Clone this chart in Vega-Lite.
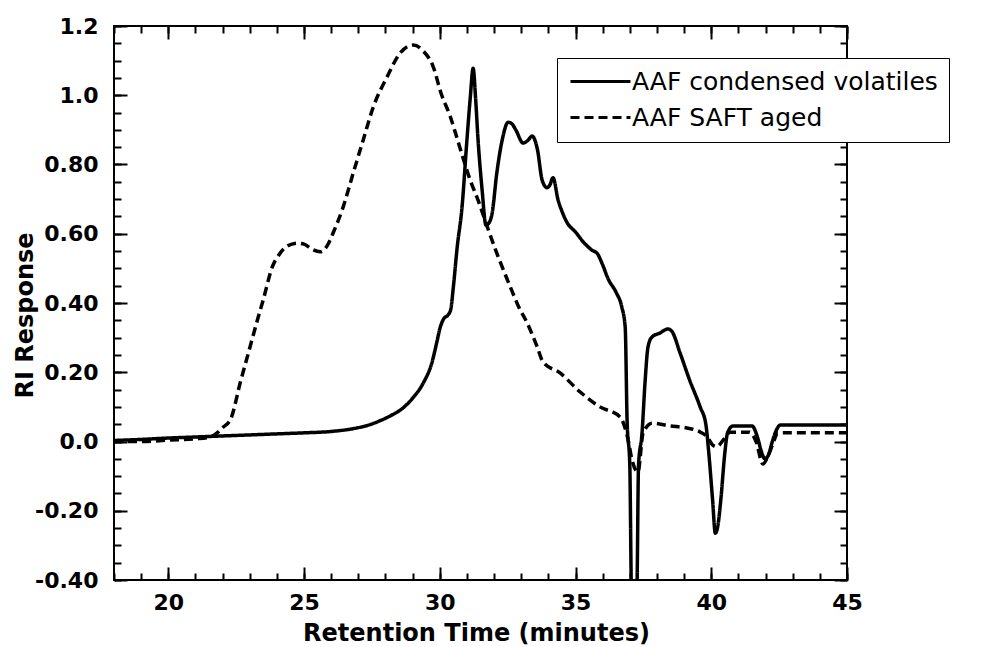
{
  "$schema": "https://vega.github.io/schema/vega-lite/v6.json",
  "autosize": {"type": "none"},
  "padding": {"left": 114, "top": 26, "right": 136, "bottom": 67},
  "width": 733,
  "height": 554,
  "background": "white",
  "config": {
    "view": {"stroke": "black", "strokeWidth": 2},
    "axis": {"grid": false, "domain": false, "tickColor": "black", "labelColor": "black", "titleColor": "black", "tickWidth": 2, "labelFlush": false, "labelOverlap": false}
  },
  "data": {"values": [
    {"t":18,"v":0.003,"s":"AAF condensed volatiles"},{"t":19,"v":0.006,"s":"AAF condensed volatiles"},{"t":20,"v":0.01,"s":"AAF condensed volatiles"},{"t":21,"v":0.013,"s":"AAF condensed volatiles"},{"t":22,"v":0.016,"s":"AAF condensed volatiles"},{"t":23,"v":0.019,"s":"AAF condensed volatiles"},{"t":24,"v":0.022,"s":"AAF condensed volatiles"},{"t":25,"v":0.025,"s":"AAF condensed volatiles"},{"t":26,"v":0.029,"s":"AAF condensed volatiles"},{"t":26.8,"v":0.037,"s":"AAF condensed volatiles"},{"t":27.4,"v":0.048,"s":"AAF condensed volatiles"},{"t":27.8,"v":0.06,"s":"AAF condensed volatiles"},{"t":28.2,"v":0.075,"s":"AAF condensed volatiles"},{"t":28.6,"v":0.094,"s":"AAF condensed volatiles"},{"t":29,"v":0.125,"s":"AAF condensed volatiles"},{"t":29.4,"v":0.17,"s":"AAF condensed volatiles"},{"t":29.7,"v":0.225,"s":"AAF condensed volatiles"},{"t":29.9,"v":0.29,"s":"AAF condensed volatiles"},{"t":30,"v":0.325,"s":"AAF condensed volatiles"},{"t":30.15,"v":0.355,"s":"AAF condensed volatiles"},{"t":30.3,"v":0.365,"s":"AAF condensed volatiles"},{"t":30.4,"v":0.38,"s":"AAF condensed volatiles"},{"t":30.5,"v":0.446,"s":"AAF condensed volatiles"},{"t":30.64,"v":0.56,"s":"AAF condensed volatiles"},{"t":30.82,"v":0.677,"s":"AAF condensed volatiles"},{"t":31,"v":0.871,"s":"AAF condensed volatiles"},{"t":31.12,"v":0.99,"s":"AAF condensed volatiles"},{"t":31.23,"v":1.078,"s":"AAF condensed volatiles"},{"t":31.32,"v":0.99,"s":"AAF condensed volatiles"},{"t":31.41,"v":0.871,"s":"AAF condensed volatiles"},{"t":31.56,"v":0.726,"s":"AAF condensed volatiles"},{"t":31.7,"v":0.625,"s":"AAF condensed volatiles"},{"t":31.8,"v":0.63,"s":"AAF condensed volatiles"},{"t":31.93,"v":0.66,"s":"AAF condensed volatiles"},{"t":32.1,"v":0.775,"s":"AAF condensed volatiles"},{"t":32.3,"v":0.871,"s":"AAF condensed volatiles"},{"t":32.52,"v":0.922,"s":"AAF condensed volatiles"},{"t":32.65,"v":0.918,"s":"AAF condensed volatiles"},{"t":32.8,"v":0.9,"s":"AAF condensed volatiles"},{"t":33.07,"v":0.862,"s":"AAF condensed volatiles"},{"t":33.25,"v":0.87,"s":"AAF condensed volatiles"},{"t":33.4,"v":0.882,"s":"AAF condensed volatiles"},{"t":33.6,"v":0.842,"s":"AAF condensed volatiles"},{"t":33.77,"v":0.755,"s":"AAF condensed volatiles"},{"t":33.95,"v":0.733,"s":"AAF condensed volatiles"},{"t":34.05,"v":0.74,"s":"AAF condensed volatiles"},{"t":34.17,"v":0.762,"s":"AAF condensed volatiles"},{"t":34.36,"v":0.697,"s":"AAF condensed volatiles"},{"t":34.5,"v":0.665,"s":"AAF condensed volatiles"},{"t":34.7,"v":0.631,"s":"AAF condensed volatiles"},{"t":35,"v":0.605,"s":"AAF condensed volatiles"},{"t":35.3,"v":0.575,"s":"AAF condensed volatiles"},{"t":35.6,"v":0.553,"s":"AAF condensed volatiles"},{"t":35.8,"v":0.543,"s":"AAF condensed volatiles"},{"t":36,"v":0.51,"s":"AAF condensed volatiles"},{"t":36.2,"v":0.47,"s":"AAF condensed volatiles"},{"t":36.5,"v":0.43,"s":"AAF condensed volatiles"},{"t":36.7,"v":0.39,"s":"AAF condensed volatiles"},{"t":36.83,"v":0.33,"s":"AAF condensed volatiles"},{"t":36.9,"v":0.06,"s":"AAF condensed volatiles"},{"t":37,"v":-0.07,"s":"AAF condensed volatiles"},{"t":37.05,"v":-0.4,"s":"AAF condensed volatiles"},{"t":37.1,"v":-0.6,"s":"AAF condensed volatiles"},{"t":37.22,"v":-0.6,"s":"AAF condensed volatiles"},{"t":37.27,"v":-0.4,"s":"AAF condensed volatiles"},{"t":37.32,"v":-0.07,"s":"AAF condensed volatiles"},{"t":37.45,"v":0.025,"s":"AAF condensed volatiles"},{"t":37.56,"v":0.17,"s":"AAF condensed volatiles"},{"t":37.67,"v":0.273,"s":"AAF condensed volatiles"},{"t":37.82,"v":0.302,"s":"AAF condensed volatiles"},{"t":38.1,"v":0.313,"s":"AAF condensed volatiles"},{"t":38.4,"v":0.325,"s":"AAF condensed volatiles"},{"t":38.55,"v":0.318,"s":"AAF condensed volatiles"},{"t":38.85,"v":0.256,"s":"AAF condensed volatiles"},{"t":39.2,"v":0.178,"s":"AAF condensed volatiles"},{"t":39.59,"v":0.1,"s":"AAF condensed volatiles"},{"t":39.8,"v":0.05,"s":"AAF condensed volatiles"},{"t":39.9,"v":-0.025,"s":"AAF condensed volatiles"},{"t":40.05,"v":-0.17,"s":"AAF condensed volatiles"},{"t":40.15,"v":-0.265,"s":"AAF condensed volatiles"},{"t":40.25,"v":-0.24,"s":"AAF condensed volatiles"},{"t":40.35,"v":-0.17,"s":"AAF condensed volatiles"},{"t":40.5,"v":-0.033,"s":"AAF condensed volatiles"},{"t":40.6,"v":0.025,"s":"AAF condensed volatiles"},{"t":40.8,"v":0.045,"s":"AAF condensed volatiles"},{"t":41.5,"v":0.045,"s":"AAF condensed volatiles"},{"t":41.7,"v":0.013,"s":"AAF condensed volatiles"},{"t":41.85,"v":-0.03,"s":"AAF condensed volatiles"},{"t":41.97,"v":-0.05,"s":"AAF condensed volatiles"},{"t":42.1,"v":-0.04,"s":"AAF condensed volatiles"},{"t":42.25,"v":0,"s":"AAF condensed volatiles"},{"t":42.4,"v":0.033,"s":"AAF condensed volatiles"},{"t":42.55,"v":0.048,"s":"AAF condensed volatiles"},{"t":45,"v":0.048,"s":"AAF condensed volatiles"},
    {"t":18,"v":0,"s":"AAF SAFT aged"},{"t":19,"v":0,"s":"AAF SAFT aged"},{"t":20,"v":0.004,"s":"AAF SAFT aged"},{"t":21,"v":0.008,"s":"AAF SAFT aged"},{"t":21.5,"v":0.012,"s":"AAF SAFT aged"},{"t":21.8,"v":0.025,"s":"AAF SAFT aged"},{"t":22,"v":0.04,"s":"AAF SAFT aged"},{"t":22.3,"v":0.065,"s":"AAF SAFT aged"},{"t":22.65,"v":0.17,"s":"AAF SAFT aged"},{"t":23,"v":0.27,"s":"AAF SAFT aged"},{"t":23.28,"v":0.35,"s":"AAF SAFT aged"},{"t":23.5,"v":0.41,"s":"AAF SAFT aged"},{"t":23.83,"v":0.504,"s":"AAF SAFT aged"},{"t":24.12,"v":0.544,"s":"AAF SAFT aged"},{"t":24.4,"v":0.565,"s":"AAF SAFT aged"},{"t":24.75,"v":0.573,"s":"AAF SAFT aged"},{"t":25,"v":0.57,"s":"AAF SAFT aged"},{"t":25.3,"v":0.555,"s":"AAF SAFT aged"},{"t":25.6,"v":0.548,"s":"AAF SAFT aged"},{"t":25.85,"v":0.565,"s":"AAF SAFT aged"},{"t":26.07,"v":0.602,"s":"AAF SAFT aged"},{"t":26.44,"v":0.677,"s":"AAF SAFT aged"},{"t":26.81,"v":0.775,"s":"AAF SAFT aged"},{"t":27.18,"v":0.871,"s":"AAF SAFT aged"},{"t":27.55,"v":0.966,"s":"AAF SAFT aged"},{"t":28.06,"v":1.053,"s":"AAF SAFT aged"},{"t":28.54,"v":1.122,"s":"AAF SAFT aged"},{"t":29.02,"v":1.145,"s":"AAF SAFT aged"},{"t":29.39,"v":1.128,"s":"AAF SAFT aged"},{"t":29.76,"v":1.082,"s":"AAF SAFT aged"},{"t":30.05,"v":1.005,"s":"AAF SAFT aged"},{"t":30.38,"v":0.94,"s":"AAF SAFT aged"},{"t":30.64,"v":0.875,"s":"AAF SAFT aged"},{"t":30.86,"v":0.818,"s":"AAF SAFT aged"},{"t":31.12,"v":0.755,"s":"AAF SAFT aged"},{"t":31.41,"v":0.697,"s":"AAF SAFT aged"},{"t":31.75,"v":0.62,"s":"AAF SAFT aged"},{"t":32.1,"v":0.544,"s":"AAF SAFT aged"},{"t":32.3,"v":0.504,"s":"AAF SAFT aged"},{"t":32.6,"v":0.446,"s":"AAF SAFT aged"},{"t":32.9,"v":0.39,"s":"AAF SAFT aged"},{"t":33.22,"v":0.342,"s":"AAF SAFT aged"},{"t":33.59,"v":0.273,"s":"AAF SAFT aged"},{"t":33.8,"v":0.23,"s":"AAF SAFT aged"},{"t":34.43,"v":0.198,"s":"AAF SAFT aged"},{"t":35.17,"v":0.143,"s":"AAF SAFT aged"},{"t":35.9,"v":0.1,"s":"AAF SAFT aged"},{"t":36.64,"v":0.071,"s":"AAF SAFT aged"},{"t":36.94,"v":0.004,"s":"AAF SAFT aged"},{"t":37.08,"v":-0.053,"s":"AAF SAFT aged"},{"t":37.3,"v":-0.088,"s":"AAF SAFT aged"},{"t":37.49,"v":0.025,"s":"AAF SAFT aged"},{"t":37.82,"v":0.053,"s":"AAF SAFT aged"},{"t":38.48,"v":0.045,"s":"AAF SAFT aged"},{"t":39.1,"v":0.039,"s":"AAF SAFT aged"},{"t":39.6,"v":0.027,"s":"AAF SAFT aged"},{"t":39.85,"v":0.013,"s":"AAF SAFT aged"},{"t":40.05,"v":-0.01,"s":"AAF SAFT aged"},{"t":40.2,"v":-0.015,"s":"AAF SAFT aged"},{"t":40.45,"v":0.005,"s":"AAF SAFT aged"},{"t":40.7,"v":0.027,"s":"AAF SAFT aged"},{"t":41.4,"v":0.027,"s":"AAF SAFT aged"},{"t":41.65,"v":0,"s":"AAF SAFT aged"},{"t":41.9,"v":-0.065,"s":"AAF SAFT aged"},{"t":42.1,"v":-0.04,"s":"AAF SAFT aged"},{"t":42.3,"v":0,"s":"AAF SAFT aged"},{"t":42.45,"v":0.025,"s":"AAF SAFT aged"},{"t":45,"v":0.025,"s":"AAF SAFT aged"}
  ]},
  "layer": [
    {
      "mark": {"type": "point", "opacity": 0, "size": 0},
      "encoding": {
        "x": {"field": "t", "type": "quantitative", "scale": {"domain": [18, 45], "nice": false, "zero": false},
              "axis": {"orient": "bottom", "offset": -7, "values": [18,19,20,21,22,23,24,25,26,27,28,29,30,31,32,33,34,35,36,37,38,39,40,41,42,43,44,45], "tickSize": 7, "labels": false, "title": null}},
        "y": {"field": "v", "type": "quantitative", "scale": {"domain": [-0.4, 1.2], "nice": false, "zero": false},
              "axis": {"orient": "left", "offset": -7, "values": [-0.4,-0.35,-0.3,-0.25,-0.2,-0.15,-0.1,-0.05,0,0.05,0.1,0.15,0.2,0.25,0.3,0.35,0.4,0.45,0.5,0.55,0.6,0.65,0.7,0.75,0.8,0.85,0.9,0.95,1,1.05,1.1,1.15,1.2], "tickSize": 7, "labels": false, "title": null}}
      }
    },
    {
      "mark": {"type": "point", "opacity": 0, "size": 0},
      "encoding": {
        "x": {"field": "t", "type": "quantitative", "scale": {"domain": [18, 45], "nice": false, "zero": false},
              "axis": {"orient": "bottom", "offset": -13, "values": [20,25,30,35,40,45], "tickSize": 13, "labels": false, "title": null}},
        "y": {"field": "v", "type": "quantitative", "scale": {"domain": [-0.4, 1.2], "nice": false, "zero": false},
              "axis": {"orient": "left", "offset": -13, "values": [-0.4,-0.2,0,0.2,0.4,0.6,0.8,1,1.2], "tickSize": 13, "labels": false, "title": null}}
      }
    },
    {
      "mark": {"type": "point", "opacity": 0, "size": 0},
      "encoding": {
        "x": {"field": "t", "type": "quantitative", "scale": {"domain": [18, 45], "nice": false, "zero": false},
              "axis": {"orient": "top", "offset": -7, "values": [18,19,20,21,22,23,24,25,26,27,28,29,30,31,32,33,34,35,36,37,38,39,40,41,42,43,44,45], "tickSize": 7, "labels": false, "title": null}},
        "y": {"field": "v", "type": "quantitative", "scale": {"domain": [-0.4, 1.2], "nice": false, "zero": false},
              "axis": {"orient": "right", "offset": -7, "values": [-0.4,-0.35,-0.3,-0.25,-0.2,-0.15,-0.1,-0.05,0,0.05,0.1,0.15,0.2,0.25,0.3,0.35,0.4,0.45,0.5,0.55,0.6,0.65,0.7,0.75,0.8,0.85,0.9,0.95,1,1.05,1.1,1.15,1.2], "tickSize": 7, "labels": false, "title": null}}
      }
    },
    {
      "mark": {"type": "point", "opacity": 0, "size": 0},
      "encoding": {
        "x": {"field": "t", "type": "quantitative", "scale": {"domain": [18, 45], "nice": false, "zero": false},
              "axis": {"orient": "top", "offset": -13, "values": [20,25,30,35,40,45], "tickSize": 13, "labels": false, "title": null}},
        "y": {"field": "v", "type": "quantitative", "scale": {"domain": [-0.4, 1.2], "nice": false, "zero": false},
              "axis": {"orient": "right", "offset": -13, "values": [-0.4,-0.2,0,0.2,0.4,0.6,0.8,1,1.2], "tickSize": 13, "labels": false, "title": null}}
      }
    },
    {
      "mark": {"type": "line", "clip": true, "strokeWidth": 3.5, "color": "black", "interpolate": "monotone", "strokeJoin": "round"},
      "encoding": {
        "x": {"field": "t", "type": "quantitative", "scale": {"domain": [18, 45], "nice": false, "zero": false},
              "axis": {"orient": "bottom", "values": [20,25,30,35,40,45], "ticks": false, "labels": true, "labelPadding": 12,
                       "labelFont": "DejaVu Sans", "labelFontWeight": "bold", "labelFontSize": 22,
                       "title": "Retention Time (minutes)", "titleFont": "DejaVu Sans", "titleFontWeight": "bold", "titleFontSize": 24,
                       "titleX": 362, "titleY": 60, "titleAlign": "center", "titleBaseline": "alphabetic"}},
        "y": {"field": "v", "type": "quantitative", "scale": {"domain": [-0.4, 1.2], "nice": false, "zero": false},
              "axis": {"orient": "left", "values": [-0.4,-0.2,0,0.2,0.4,0.6,0.8,1,1.2], "ticks": false, "labels": true, "labelPadding": 16,
                       "labelExpr": "datum.value == 0 ? '0.0' : (datum.value < 0 ? '-' : '') + (abs(datum.value) >= 1 ? format(abs(datum.value), '.1f') : format(abs(datum.value), '.2f'))",
                       "labelFont": "DejaVu Sans", "labelFontWeight": "bold", "labelFontSize": 22,
                       "title": "RI Response", "titleFont": "DejaVu Sans", "titleFontWeight": "bold", "titleFontSize": 24,
                       "titleX": -82, "titleY": 289, "titleAngle": 270, "titleAlign": "center", "titleBaseline": "alphabetic"}},
        "strokeDash": {"field": "s", "type": "nominal",
                       "scale": {"domain": ["AAF condensed volatiles", "AAF SAFT aged"], "range": [[1, 0], [9, 5]]},
                       "legend": {"orient": "none", "legendX": 443, "legendY": 32, "title": null, "fillColor": "white", "strokeColor": "black",
                                  "padding": 11, "symbolType": "M-3,0L3,0", "symbolSize": 400, "symbolStrokeWidth": 3, "symbolStrokeColor": "black",
                                  "symbolOffset": 20, "labelOffset": 19, "labelFont": "DejaVu Sans", "labelFontSize": 25, "labelColor": "black",
                                  "rowPadding": 10, "labelLimit": 600}}
      }
    }
  ],
  "resolve": {"axis": {"x": "independent", "y": "independent"}}
}
